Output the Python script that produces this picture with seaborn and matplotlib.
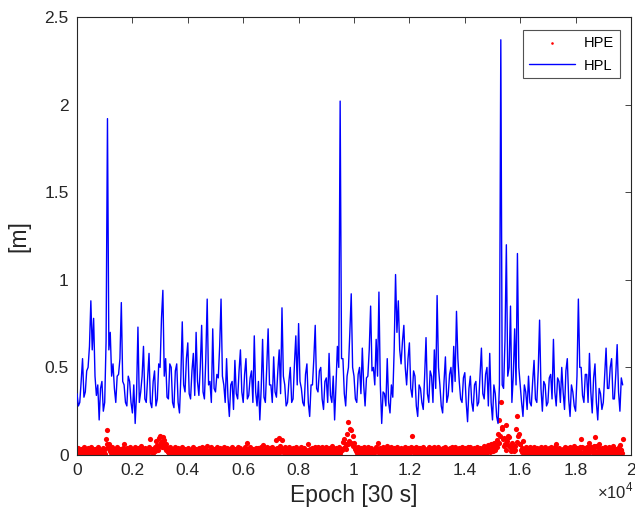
import numpy as np
import pandas as pd
import matplotlib
matplotlib.use("Agg")
import matplotlib.pyplot as plt
import seaborn as sns

# Horizontal protection level [m], one value every HPL_STEP epochs
HPL_STEP = 50
hpl = [
    0.35, 0.28, 0.30, 0.42, 0.55, 0.33, 0.36, 0.48, 0.50, 0.62,
    0.88, 0.60, 0.78, 0.45, 0.34, 0.40, 0.20, 0.38, 0.42, 0.25,
    0.30, 0.65, 1.92, 0.60, 0.70, 0.45, 0.52, 0.38, 0.30, 0.45,
    0.46, 0.55, 0.87, 0.42, 0.40, 0.30, 0.28, 0.45, 0.42, 0.30,
    0.24, 0.40, 0.18, 0.35, 0.73, 0.30, 0.36, 0.45, 0.62, 0.32,
    0.30, 0.44, 0.58, 0.30, 0.27, 0.42, 0.48, 0.28, 0.32, 0.52,
    0.50, 0.78, 0.94, 0.45, 0.55, 0.33, 0.32, 0.52, 0.50, 0.30,
    0.27, 0.48, 0.52, 0.30, 0.24, 0.45, 0.76, 0.40, 0.36, 0.55,
    0.64, 0.35, 0.32, 0.48, 0.58, 0.34, 0.70, 0.42, 0.34, 0.50,
    0.74, 0.36, 0.32, 0.55, 0.89, 0.40, 0.42, 0.30, 0.72, 0.38,
    0.36, 0.46, 0.44, 0.62, 0.89, 0.45, 0.40, 0.30, 0.55, 0.33,
    0.22, 0.40, 0.42, 0.26, 0.54, 0.35, 0.32, 0.48, 0.60, 0.36,
    0.30, 0.46, 0.55, 0.32, 0.34, 0.44, 0.48, 0.30, 0.68, 0.36,
    0.28, 0.42, 0.20, 0.38, 0.66, 0.33, 0.30, 0.50, 0.72, 0.40,
    0.40, 0.30, 0.56, 0.36, 0.33, 0.48, 0.60, 0.35, 0.84, 0.45,
    0.40, 0.28, 0.30, 0.42, 0.50, 0.30, 0.32, 0.52, 0.68, 0.40,
    0.75, 0.42, 0.38, 0.30, 0.28, 0.46, 0.52, 0.30, 0.22, 0.40,
    0.40, 0.55, 0.74, 0.38, 0.36, 0.48, 0.50, 0.32, 0.26, 0.42,
    0.44, 0.30, 0.58, 0.34, 0.30, 0.45, 0.20, 0.40, 0.62, 0.50,
    2.02, 0.55, 0.55, 0.35, 0.28, 0.45, 0.50, 0.70, 0.92, 0.50,
    0.45, 0.32, 0.30, 0.46, 0.50, 0.35, 0.61, 0.40, 0.28, 0.44,
    0.45, 0.60, 0.85, 0.48, 0.50, 0.40, 0.66, 0.45, 0.93, 0.40,
    0.18, 0.36, 0.35, 0.28, 0.55, 0.30, 0.24, 0.40, 0.33, 0.60,
    1.03, 0.70, 0.88, 0.60, 0.52, 0.65, 0.74, 0.50, 0.40, 0.55,
    0.64, 0.38, 0.33, 0.48, 0.45, 0.28, 0.22, 0.40, 0.38, 0.30,
    0.26, 0.45, 0.67, 0.35, 0.30, 0.48, 0.45, 0.30, 0.60, 0.38,
    0.91, 0.50, 0.40, 0.28, 0.24, 0.42, 0.56, 0.30, 0.34, 0.46,
    0.50, 0.36, 0.62, 0.42, 0.82, 0.55, 0.42, 0.32, 0.30, 0.44,
    0.47, 0.30, 0.19, 0.38, 0.45, 0.30, 0.25, 0.40, 0.42, 0.28,
    0.30, 0.45, 0.61, 0.35, 0.32, 0.46, 0.50, 0.28, 0.58, 0.30,
    0.20, 0.40, 0.35, 0.22, 0.18, 0.40, 2.37, 0.40, 0.38, 0.65,
    1.20, 0.45, 0.50, 0.85, 0.30, 0.45, 0.72, 0.40, 1.15, 0.50,
    0.40, 0.30, 0.22, 0.40, 0.36, 0.26, 0.45, 0.30, 0.28, 0.42,
    0.54, 0.32, 0.30, 0.48, 0.77, 0.38, 0.25, 0.42, 0.40, 0.28,
    0.30, 0.44, 0.46, 0.32, 0.66, 0.36, 0.28, 0.44, 0.42, 0.30,
    0.50, 0.36, 0.26, 0.48, 0.55, 0.32, 0.22, 0.40, 0.36, 0.28,
    0.25, 0.45, 0.89, 0.50, 0.50, 0.34, 0.30, 0.46, 0.46, 0.30,
    0.58, 0.36, 0.24, 0.44, 0.52, 0.30, 0.20, 0.38, 0.35, 0.26,
    0.30, 0.45, 0.61, 0.38, 0.38, 0.50, 0.55, 0.32, 0.32, 0.46,
    0.63, 0.36, 0.25, 0.44, 0.40,
]

# Horizontal position error [mm], one value every HPE_STEP epochs
HPE_STEP = 25
hpe_mm = [
    15, 8, 42, 20, 6, 27, 33, 12, 24, 4, 47, 18, 9, 25, 30, 7, 38, 16, 12, 29,
    45, 10, 20, 34, 5, 22, 36, 9, 27, 14, 43, 21, 10, 3, 31, 17, 18, 26, 40, 11,
    8, 35, 92, 60, 140, 45, 65, 30, 25, 12, 44, 19, 11, 28, 37, 6, 20, 15, 48, 24,
    6, 13, 35, 22, 29, 8, 42, 17, 65, 30, 14, 5, 39, 21, 22, 10, 46, 26, 9, 18,
    33, 14, 18, 6, 45, 23, 7, 19, 38, 11, 26, 4, 50, 20, 12, 27, 34, 9, 41, 16,
    5, 25, 29, 12, 47, 21, 90, 35, 36, 15, 10, 28, 44, 20, 80, 40, 58, 30, 95, 50,
    110, 60, 72, 45, 100, 55, 88, 40, 60, 28, 40, 15, 22, 9, 46, 18, 9, 24, 35, 12,
    28, 5, 43, 20, 14, 26, 39, 8, 6, 17, 31, 11, 48, 22, 20, 7, 37, 25, 11, 16,
    42, 19, 25, 6, 8, 22, 36, 13, 47, 27, 16, 4, 33, 18, 5, 24, 40, 10, 29, 15,
    45, 21, 12, 7, 38, 26, 21, 11, 49, 17, 7, 23, 30, 9, 43, 20, 17, 5, 35, 14,
    10, 24, 44, 16, 26, 6, 39, 21, 6, 12, 34, 27, 48, 18, 19, 8, 41, 23, 13, 4,
    37, 15, 28, 9, 46, 22, 8, 17, 32, 11, 22, 26, 45, 14, 15, 5, 40, 20, 27, 10,
    9, 21, 43, 15, 31, 7, 70, 35, 18, 24, 47, 12, 12, 5, 36, 19, 25, 9, 42, 23,
    6, 14, 38, 8, 29, 20, 45, 16, 55, 25, 16, 6, 34, 18, 44, 22, 11, 4, 39, 13,
    24, 10, 46, 19, 8, 25, 37, 14, 85, 40, 30, 12, 98, 50, 42, 20, 88, 35, 27, 9,
    44, 17, 14, 23, 35, 6, 48, 21, 10, 15, 31, 8, 41, 19, 19, 26, 45, 12, 7, 20,
    36, 13, 22, 5, 47, 24, 13, 18, 40, 9, 29, 21, 5, 14, 60, 28, 33, 11, 18, 6,
    42, 22, 26, 9, 48, 17, 11, 25, 44, 13, 39, 7, 24, 19, 45, 10, 9, 22, 35, 15,
    43, 18, 16, 7, 38, 23, 28, 11, 49, 20, 7, 14, 34, 5, 41, 24, 20, 9, 46, 19,
    12, 26, 37, 30, 75, 40, 90, 45, 60, 35, 120, 60, 190, 80, 150, 70, 140, 65, 110, 50,
    70, 35, 45, 20, 30, 12, 48, 22, 12, 6, 39, 17, 25, 9, 44, 21, 9, 15, 36, 8,
    47, 23, 19, 11, 41, 26, 28, 7, 6, 14, 35, 20, 46, 30, 70, 35, 14, 8, 38, 18,
    27, 11, 43, 21, 10, 5, 37, 16, 49, 24, 18, 7, 32, 19, 45, 12, 8, 22, 40, 14,
    24, 6, 47, 20, 15, 25, 36, 9, 42, 17, 11, 4, 30, 21, 46, 13, 21, 8, 39, 19,
    7, 16, 44, 30, 110, 40, 33, 14, 26, 8, 48, 22, 13, 5, 38, 18, 41, 24, 17, 9,
    45, 20, 29, 11, 6, 15, 35, 23, 47, 12, 22, 6, 40, 19, 12, 25, 43, 14, 31, 8,
    19, 7, 46, 22, 9, 17, 37, 12, 42, 26, 24, 6, 48, 19, 14, 23, 34, 10, 40, 15,
    5, 21, 43, 9, 28, 18, 47, 24, 16, 5, 36, 13, 39, 20, 11, 7, 45, 16, 25, 10,
    38, 15, 8, 22, 44, 12, 30, 6, 47, 20, 17, 26, 35, 9, 42, 18, 12, 24, 46, 11,
    27, 5, 39, 19, 6, 14, 41, 23, 49, 16, 20, 8, 36, 25, 55, 30, 33, 18, 62, 35,
    48, 25, 70, 40, 30, 55, 85, 45, 120, 70, 200, 110, 300, 160, 150, 90, 95, 50, 60, 30,
    170, 80, 110, 55, 100, 45, 45, 25, 70, 35, 38, 20, 52, 28, 150, 75, 220, 110, 120, 60,
    60, 30, 40, 18, 80, 35, 25, 10, 47, 20, 12, 6, 38, 16, 44, 23, 9, 14, 35, 8,
    46, 21, 20, 12, 41, 25, 30, 7, 6, 17, 43, 20, 37, 11, 15, 5, 48, 22, 27, 13,
    10, 22, 39, 15, 45, 19, 22, 7, 33, 24, 47, 12, 60, 30, 18, 9, 42, 21, 29, 14,
    5, 18, 37, 10, 48, 23, 14, 6, 40, 17, 26, 12, 44, 25, 8, 15, 36, 9, 49, 20,
    20, 8, 41, 18, 31, 12, 46, 24, 90, 45, 12, 6, 38, 19, 27, 10, 45, 22, 9, 15,
    70, 35, 43, 20, 34, 12, 52, 26, 100, 50, 19, 8, 47, 23, 65, 30, 11, 5, 39, 17,
    28, 12, 46, 20, 7, 15, 35, 9, 43, 22, 17, 6, 40, 18, 49, 24, 13, 7, 37, 16,
    25, 10, 45, 21, 55, 28, 30, 14, 90,
]

x_ticks = [0, 2000, 4000, 6000, 8000, 10000, 12000, 14000, 16000, 18000, 20000]
x_tick_labels = ["0", "0.2", "0.4", "0.6", "0.8", "1", "1.2", "1.4", "1.6", "1.8", "2"]
y_ticks = [0, 0.5, 1, 1.5, 2, 2.5]
y_tick_labels = ["0", "0.5", "1", "1.5", "2", "2.5"]

df_hpl = pd.DataFrame({"epoch": np.arange(len(hpl)) * HPL_STEP, "m": hpl})
df_hpe = pd.DataFrame({"epoch": np.arange(len(hpe_mm)) * HPE_STEP,
                       "m": np.array(hpe_mm) / 1000.0})

sns.set_style("white")
plt.rcParams["font.family"] = ["Liberation Sans", "DejaVu Sans"]
plt.rcParams["mathtext.fontset"] = "custom"
plt.rcParams["mathtext.rm"] = "Liberation Sans"

ink = "#262626"
fig = plt.figure(figsize=(6.35, 5.16), dpi=100)
ax = fig.add_axes([77 / 635, 1 - 455 / 516, (631 - 77) / 635, (455 - 17) / 516])

sns.scatterplot(data=df_hpe, x="epoch", y="m", ax=ax, color="red", marker="o",
                s=14, linewidth=0, label="HPE", zorder=2)
sns.lineplot(data=df_hpl, x="epoch", y="m", ax=ax, color="blue", linewidth=1.0,
             estimator=None, sort=False, label="HPL", zorder=3)

ax.set_xlim(0, 20000)
ax.set_ylim(0, 2.5)
ax.set_xticks(x_ticks)
ax.set_xticklabels(x_tick_labels)
ax.set_yticks(y_ticks)
ax.set_yticklabels(y_tick_labels)
ax.tick_params(direction="in", top=True, right=True, length=4, width=0.6,
               colors=ink, labelsize=12.5, pad=6)
for sp in ax.spines.values():
    sp.set_color(ink)
    sp.set_linewidth(0.8)

ax.set_xlabel("Epoch [30 s]", fontsize=16.5, color=ink, labelpad=4)
ax.set_ylabel("[m]", fontsize=16.5, color=ink, labelpad=10)
fig.text(634 / 635, 1 - 491 / 516, r"$\times10^{4}$", ha="right", va="center",
         fontsize=12, color=ink)

leg = ax.legend(loc="upper right", bbox_to_anchor=(1 - 11 / 554, 1 - 13 / 438),
                fontsize=10.5, frameon=True, fancybox=False, borderaxespad=0,
                handlelength=3.2, handletextpad=0.6, borderpad=0.4,
                labelspacing=0.6, markerscale=0.5)
leg.get_frame().set_edgecolor(ink)
leg.get_frame().set_linewidth(0.8)
for t in leg.get_texts():
    t.set_color("black")

fig.savefig("out.png", dpi=100, facecolor="white")
